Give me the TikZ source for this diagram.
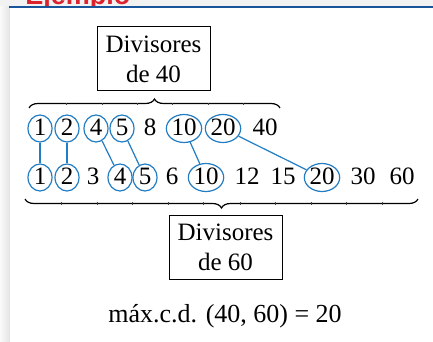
\documentclass[tikz,border=0pt]{standalone}
\usepackage{fontspec}
\setmainfont{Liberation Serif}
\newfontfamily\headfont{Liberation Sans}
\usepackage{tikz}
\usetikzlibrary{shapes,decorations.pathreplacing}
\definecolor{foreground}{RGB}{0,0,0}
\definecolor{ringblue}{RGB}{35,125,195}
\definecolor{headblue}{RGB}{25,85,155}
\definecolor{headred}{RGB}{220,35,45}
\tikzstyle{num}=[inner sep=0pt, text height=6.5pt, text depth=-6pt, font=\fontsize{12.5}{15}\selectfont]
\tikzstyle{ring}=[num, ellipse, draw=ringblue, line width=0.6pt, minimum width=12pt, minimum height=13.5pt]
\tikzstyle{wide}=[minimum width=16pt, minimum height=14pt]
\tikzstyle{divbox}=[draw, line width=0.5pt, align=center, minimum width=56.5pt, minimum height=32pt, inner sep=0pt, font=\fontsize{12.5}{15}\selectfont]
\tikzstyle{link} = [draw=ringblue, line width=0.6pt]
\tikzstyle{curly} = [draw, line width=0.6pt, decorate, decoration={brace, amplitude=4.5pt}]
\tikzstyle{tick} = [draw=black!75, line width=0.5pt]

\begin{document}
\begin{tikzpicture}[auto, x=0.5pt, y=-0.5pt]

      \useasboundingbox (0,0) rectangle (433,342);
      \fill[gray!10] (0,0) rectangle (433,7);
      \node[anchor=base west, inner sep=0pt, text=headred, font=\headfont\bfseries\fontsize{13.5}{16}\selectfont] (head) at (25,5) {Ejemplo};
      \shade[left color=gray!4, right color=gray!22] (0,7) rectangle (10,342);
      \fill[headblue] (9,6.5) rectangle (433,8.5);
      \fill[white] (10,8.5) rectangle (433,342);

      \node[divbox] (d40) at (153.5,59) {Divisores\\de 40};

      \node[ring] (t1) at (40,128.5) {1};
      \node[ring] (t2) at (67,128.5) {2};
      \node[ring] (t4) at (96,128.5) {4};
      \node[ring] (t5) at (122,128.5) {5};
      \node[num] (t8) at (150,128.5) {8};
      \node[ring,wide] (t10) at (184,128.5) {10};
      \node[ring,wide] (t20) at (223,128.5) {20};
      \node[num] (t40) at (265,128.5) {40};

      \node[ring] (b1) at (40,177.5) {1};
      \node[ring] (b2) at (67,177.5) {2};
      \node[num] (b3) at (93,177.5) {3};
      \node[ring] (b4) at (120,177.5) {4};
      \node[ring] (b5) at (145,177.5) {5};
      \node[num] (b6) at (172,177.5) {6};
      \node[ring,wide] (b10) at (206,177.5) {10};
      \node[num] (b12) at (247,177.5) {12};
      \node[num] (b15) at (283,177.5) {15};
      \node[ring,wide] (b20) at (322,177.5) {20};
      \node[num] (b30) at (363,177.5) {30};
      \node[num] (b60) at (402,177.5) {60};

      \node[divbox] (d60) at (225.5,247.5) {Divisores\\de 60};

      \node[anchor=base, inner sep=0pt, font=\fontsize{13}{15}\selectfont] (mcd) at (225,322) {máx.c.d. (40, 60) = 20};

      \path[curly] (29,108) -- (280,108);
      \path[curly] (418,199) -- (25,199);
      \path[tick] (66,103) -- (66,105.5) (102,103) -- (102,105.5) (137,103) -- (137,105.5)
        (172,103) -- (172,105.5) (208,103) -- (208,105.5) (243,103) -- (243,105.5);
      \path[tick] (61,202) -- (61,204.5) (97,202) -- (97,204.5) (132,202) -- (132,204.5)
        (168,202) -- (168,204.5) (203,202) -- (203,204.5) (240,202) -- (240,204.5) (275,202) -- (275,204.5)
        (311,202) -- (311,204.5) (346,202) -- (346,204.5) (382,202) -- (382,204.5);

      \path[link] (t1) -- (b1);
      \path[link] (t2) -- (b2);
      \path[link] (t4) -- (b4);
      \path[link] (t5) -- (b5);
      \path[link] (t10) -- (b10);
      \path[link] (t20) -- (b20);

    \end{tikzpicture}
\end{document}
